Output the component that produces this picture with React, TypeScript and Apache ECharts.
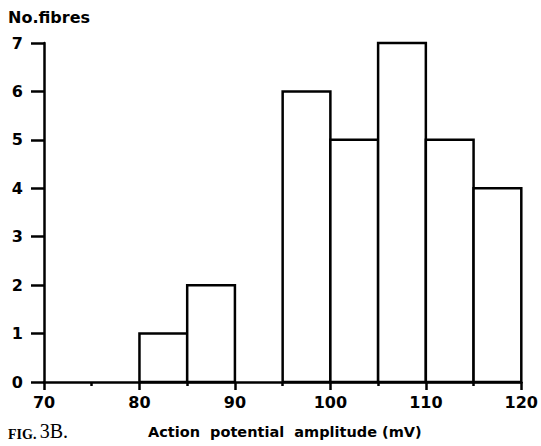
import React, { useEffect, useRef } from "react";
import * as echarts from "echarts";

const binStarts = [80, 85, 95, 100, 105, 110, 115];
const binEnds = [85, 90, 100, 105, 110, 115, 120];
const counts = [1, 2, 6, 5, 7, 5, 4];
const yTitle = "No.fibres";
const xTitle = "Action  potential  amplitude (mV)";
const figPart1 = "FIG.";
const figPart2 = "3B.";

const FONT = "'DejaVu Sans', sans-serif";
const SERIF = "'Liberation Serif', serif";

export default function App() {
  const ref = useRef<HTMLDivElement>(null);
  useEffect(() => {
    if (!ref.current) return;
    const chart = echarts.init(ref.current, undefined, { renderer: "svg" });
    const data = binStarts.map((s, i) => [s, binEnds[i], counts[i]]);
    chart.setOption({
      animation: false,
      backgroundColor: "#fff",
      grid: { left: 44, right: 16, top: 43, bottom: 64 },
      xAxis: {
        type: "value",
        min: 70,
        max: 120,
        interval: 10,
        axisLine: { lineStyle: { color: "#000", width: 2.5 } },
        axisTick: { show: true, length: 8, lineStyle: { color: "#000", width: 2.5 } },
        minorTick: { show: true, splitNumber: 2, length: 4, lineStyle: { color: "#000", width: 2.5 } },
        splitLine: { show: false },
        axisLabel: { color: "#000", fontFamily: FONT, fontWeight: "bold", fontSize: 16, margin: 12 },
      },
      yAxis: {
        type: "value",
        min: 0,
        max: 7,
        interval: 1,
        axisLine: { show: true, lineStyle: { color: "#000", width: 2.5 } },
        axisTick: { show: true, length: 13, lineStyle: { color: "#000", width: 2.5 } },
        splitLine: { show: false },
        axisLabel: { color: "#000", fontFamily: FONT, fontWeight: "bold", fontSize: 16, margin: 21 },
      },
      series: [
        {
          type: "custom",
          data,
          encode: { x: [0, 1], y: 2 },
          renderItem: (params: any, api: any) => {
            const x0 = api.value(0);
            const x1 = api.value(1);
            const y = api.value(2);
            const p0 = api.coord([x0, y]);
            const p1 = api.coord([x1, 0]);
            return {
              type: "rect",
              shape: { x: p0[0], y: p0[1], width: p1[0] - p0[0], height: p1[1] - p0[1] },
              style: { fill: "#fff", stroke: "#000", lineWidth: 2.5 },
            };
          },
        },
      ],
      graphic: [
        {
          type: "text",
          left: 8,
          top: 9,
          style: { text: yTitle, fill: "#000", font: `bold 16px ${FONT}` },
        },
        {
          type: "text",
          left: 148,
          top: 424,
          style: { text: xTitle, fill: "#000", font: `bold 14.5px ${FONT}` },
        },
        {
          type: "text",
          left: 8,
          top: 421,
          style: {
            text: `{a|${figPart1}} {b|${figPart2}}`,
            rich: {
              a: { fill: "#000", fontFamily: SERIF, fontSize: 14, fontWeight: "bold", verticalAlign: "bottom" },
              b: { fill: "#000", fontFamily: SERIF, fontSize: 20, verticalAlign: "bottom" },
            },
          },
        },
      ],
    });
    return () => chart.dispose();
  }, []);
  return (
    <div
      ref={ref}
      style={{ position: "fixed", left: 0, top: 0, width: 541, height: 446 }}
    />
  );
}
